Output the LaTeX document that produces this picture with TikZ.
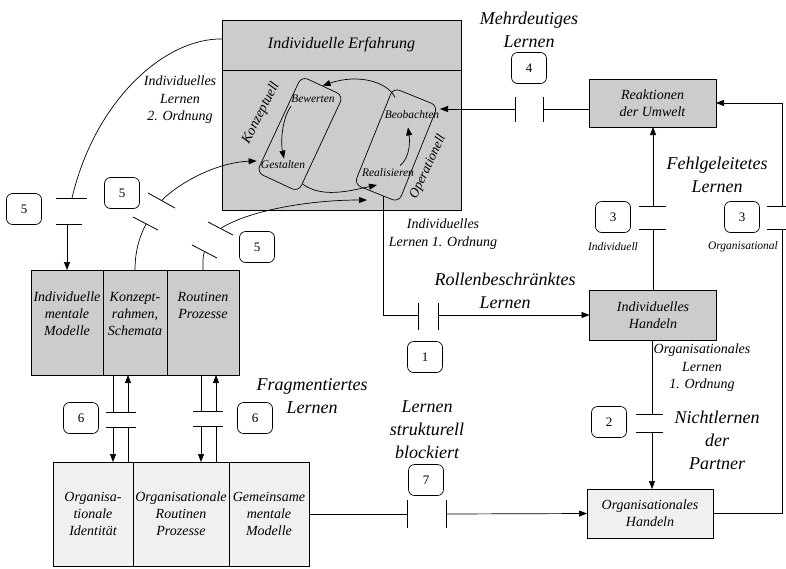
\documentclass[tikz,border=0pt]{standalone}
\usepackage{fontspec}
\setmainfont{Liberation Serif}
\usetikzlibrary{arrows.meta,calc}
\begin{document}
\begin{tikzpicture}[x=1pt,y=-1pt,line width=0.7pt,
  tip/.style={-{Triangle[length=8pt,width=6pt]}},
  dark/.style={draw, fill=gray!40, inner sep=0pt, outer sep=0pt},
  light/.style={draw, fill=gray!12, inner sep=0pt, outer sep=0pt},
  btxt/.style={align=center, inner sep=0pt, font=\fontsize{14}{17}\selectfont\itshape},
  big/.style={align=center, inner sep=0pt, font=\fontsize{18}{23}\selectfont\itshape},
  midtxt/.style={align=center, inner sep=0pt, font=\fontsize{14}{17.5}\selectfont\itshape},
  sml/.style={inner sep=0pt, font=\fontsize{11.5}{13}\selectfont\itshape},
  num/.style={draw, fill=white, rounded corners=6pt, minimum width=35pt, minimum height=31pt, inner sep=0pt, font=\fontsize{13}{15}\selectfont},
  loopbox/.style={draw, rounded corners=7pt, inner sep=0pt},
  bar/.style={line width=0.8pt}
]
\useasboundingbox (0,0) rectangle (786,568);

% ---------- top box ----------
\node[dark, minimum width=239pt, minimum height=190pt, anchor=north west] (erf) at (222,20) {};
\draw ($(erf.north west)+(0,50)$) -- ($(erf.north east)+(0,50)$);
\node[font=\fontsize{16}{18}\selectfont\itshape] (erft) at (341.5,45) {Individuelle Erfahrung};
\node[loopbox, minimum width=46pt, minimum height=106pt, rotate=-25] (kz) at (300,134) {};
\node[loopbox, minimum width=48pt, minimum height=104pt, rotate=-22] (op) at (396,145) {};
\node[font=\fontsize{14}{16}\selectfont\itshape, rotate=63] (kzl) at (261,113) {Konzeptuell};
\node[font=\fontsize{13.5}{16}\selectfont\itshape, rotate=65] (opl) at (428,167) {Operationell};
\node[sml] (bew) at (313,99) {Bewerten};
\node[sml] (ges) at (283,165) {Gestalten};
\node[sml] (beo) at (412,115) {Beobachten};
\node[sml] (rea) at (388,173) {Realisieren};

\draw[tip] ($(bew.south)+(-22,3)$) .. controls +(-10,14) and +(-3,-14) .. ($(ges.north)+(1,-2)$);
\draw[tip] ($(rea.north)+(12,-3)$) .. controls +(10,-8) and +(2,14) .. ($(beo.south)+(-4,8)$);
\draw[tip] ($(op.north west)+(2,10)$) .. controls +(-8,-16) and +(35,-12) .. (kz.north);
\coordinate (rtip) at (377,185);
\draw[tip] ($(kz.south east)+(4,-8)$) .. controls +(20,14) and +(-28,6) .. (rtip);

% ---------- middle-left block ----------
\node[dark, minimum width=72pt, minimum height=105pt, anchor=north west] (m1) at (31,270) {};
\node[dark, minimum width=64pt, minimum height=105pt, anchor=north west] (m2) at (103,270) {};
\node[dark, minimum width=72pt, minimum height=105pt, anchor=north west] (m3) at (167,270) {};
\node[btxt] (m1t) at (67,314) {Individuelle\\mentale\\Modelle};
\node[btxt] (m2t) at (135,314) {Konzept-\\rahmen,\\Schemata};
\node[btxt] (m3t) at (203,305) {Routinen\\Prozesse};

% ---------- bottom block ----------
\node[light, btxt, minimum width=80pt, minimum height=104pt, anchor=north west] (b1) at (53,462) {Organisa-\\tionale\\Identität};
\node[light, btxt, minimum width=96pt, minimum height=104pt, anchor=north west] (b2) at (133,462) {Organisationale\\Routinen\\Prozesse};
\node[light, btxt, minimum width=80pt, minimum height=104pt, anchor=north west] (b3) at (229,462) {Gemeinsame\\mentale\\Modelle};

% ---------- right boxes ----------
\node[dark, btxt, minimum width=127pt, minimum height=48pt] (reak) at (652.5,103) {Reaktionen\\der Umwelt};
\node[dark, btxt, minimum width=127pt, minimum height=50pt] (ih) at (653,315) {Individuelles\\Handeln};
\node[light, btxt, minimum width=126pt, minimum height=49pt] (oh) at (650,513.5) {Organisationales\\Handeln};

% ---------- number boxes ----------
\node[num] (n4) at (529,68) {4};
\node[num] (n3a) at (613,217) {3};
\node[num] (n3b) at (742,217) {3};
\node[num] (n1) at (425,357) {1};
\node[num] (n2) at (609,422) {2};
\node[num] (n7) at (426,480) {7};
\node[num] (n6a) at (81,418) {6};
\node[num] (n6b) at (255,418) {6};
\node[num] (n5a) at (24,209) {5};
\node[num] (n5b) at (122,193) {5};
\node[num] (n5c) at (257,247) {5};

% ---------- labels ----------
\node[big] (l4) at (529,30) {Mehrdeutiges\\Lernen};
\node[big] (l3) at (717,175) {Fehlgeleitetes\\Lernen};
\node[big] (l1) at (505,291) {Rollenbeschränktes\\Lernen};
\node[big] (l2) at (717,440) {Nichtlernen\\der\\Partner};
\node[big] (l7) at (427,430) {Lernen\\strukturell\\blockiert};
\node[big] (l6) at (312,396) {Fragmentiertes\\Lernen};
\node[midtxt] (lil1) at (443,234) {Individuelles\\Lernen 1. Ordnung};
\node[midtxt] (lil2) at (180,100) {Individuelles\\Lernen\\2. Ordnung};
\node[midtxt] (lol1) at (702,368) {Organisationales\\Lernen\\1. Ordnung};
\node[sml] (lind) at (613,247) {Individuell};
\node[sml] (lorg) at (743,247) {Organisational};

% ---------- barrier 4 ----------
\coordinate (b4l) at (515,109); \coordinate (b4r) at (543,109); \coordinate (t4) at (440,109);
\draw (reak.west |- b4r) -- (b4r);
\draw[tip] (b4l) -- (t4);
\draw[bar] (515,97) -- (515,122) (543,97) -- (543,122);

% ---------- barrier 3 individual ----------
\coordinate (b3ilo) at (653,229); \coordinate (b3ihi) at (653,206);
\draw (ih.north) -- (b3ilo);
\draw[tip] (b3ihi) -- (reak.south -| b3ihi);
\draw[bar] (639,206) -- (666,206) (639,229) -- (666,229);

% ---------- barrier 3 organisational ----------
\coordinate (b3olo) at (782,229); \coordinate (b3ohi) at (782,206);
\draw (oh.east) -- (oh.east -| b3olo) -- (b3olo);
\draw[tip] (b3ohi) -- (b3ohi |- reak.east) -- (reak.east);
\draw[bar] (767,206) -- (786,206) (767,229) -- (786,229);

% ---------- barrier 1 ----------
\coordinate (rs) at (383,196);
\coordinate (b1l) at (418,315); \coordinate (b1r) at (438,315);
\draw (rs) -- (rs |- b1l) -- (b1l);
\draw[tip] (b1r) -- (ih.west);
\draw[bar] (418,303) -- (418,330) (438,303) -- (438,330);

% ---------- barrier 2 ----------
\coordinate (b2hi) at (652,414); \coordinate (b2lo) at (652,432);
\draw (ih.south -| b2hi) -- (b2hi);
\draw[tip] (b2lo) -- (oh.north -| b2lo);
\draw[bar] (636,414) -- (663,414) (636,432) -- (663,432);

% ---------- barrier 7 ----------
\coordinate (b7l) at (407,514); \coordinate (b7r) at (446,514);
\draw (b3.east) -- (b7l);
\draw[tip] (b7r) -- (oh.west);
\draw[bar] (407,500) -- (407,528) (446,500) -- (446,528);

% ---------- barrier 6 left ----------
\coordinate (s6a) at (113,412); \coordinate (s6b) at (113,427);
\coordinate (s6c) at (128,412); \coordinate (s6d) at (128,427);
\draw (m2.south -| s6a) -- (s6a);
\draw[tip] (s6b) -- (b1.north -| s6b);
\draw (b1.north -| s6d) -- (s6d);
\draw[tip] (s6c) -- (m2.south -| s6c);
\draw[bar] (106,412) -- (136,412) (106,427) -- (136,427);

% ---------- barrier 6 right ----------
\coordinate (s6e) at (201,411); \coordinate (s6f) at (201,426);
\coordinate (s6g) at (216,411); \coordinate (s6h) at (216,426);
\draw (m3.south -| s6e) -- (s6e);
\draw[tip] (s6f) -- (b2.north -| s6f);
\draw (b2.north -| s6h) -- (s6h);
\draw[tip] (s6g) -- (m3.south -| s6g);
\draw[bar] (193,411) -- (223,411) (193,426) -- (223,426);

% ---------- barrier 5 left ----------
\coordinate (s5top) at (72,198); \coordinate (s5a) at (67,224);
\draw ($(erf.north west)+(0,19)$) .. controls (165,38) and (95,100) .. (s5top);
\draw[tip] (s5a) -- (m1.north -| s5a);
\draw[bar] (56,198) -- (87,198) (56,224) -- (82,224);

% ---------- barrier 5 middle ----------
\coordinate (s5b1) at (146,224); \coordinate (s5b2) at (162,200);
\draw (m2.north) .. controls +(0,-22) and +(-5,10) .. (s5b1);
\draw[tip] (s5b2) .. controls (185,178) and (222,162) .. ($(ges.west)+(-4,-4)$);
\draw[bar] (133,217) -- (158,230) (148,193) -- (175,208);

% ---------- barrier 5 right ----------
\coordinate (s5c1) at (204.5,251.5); \coordinate (s5c2) at (220.5,228.5);
\coordinate (rtip2) at (367,200);
\draw (m3.north) .. controls +(0,-8) and +(-2,6) .. (s5c1);
\draw[tip] (s5c2) .. controls (250,210) and (310,200) .. (rtip2);
\draw[bar] (192,245) -- (217,258) (208,222) -- (233,235);

\end{tikzpicture}
\end{document}
